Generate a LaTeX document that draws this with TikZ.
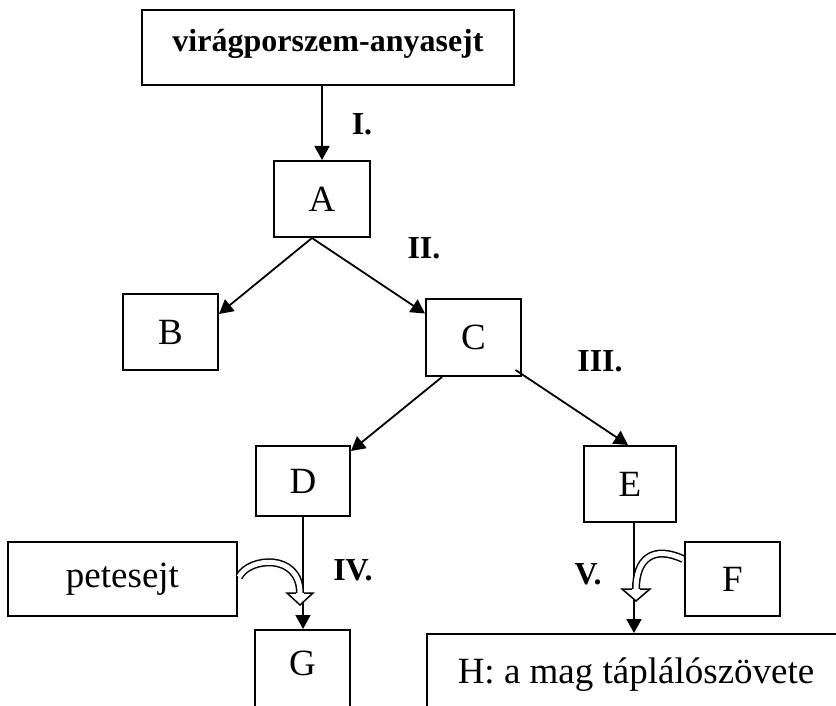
\documentclass[tikz,border=0pt]{standalone}
\usepackage{fontspec}
\setmainfont{Liberation Serif}
\usetikzlibrary{arrows.meta,calc}
\begin{document}
\begin{tikzpicture}[x=1pt,y=-1pt,
  box/.style={draw, line width=2pt, rectangle, inner sep=0pt,
    font=\fontsize{37}{40}\selectfont},
  stage/.style={inner sep=0pt, font=\bfseries\fontsize{32}{35}\selectfont},
  arr/.style={line width=1.8pt, -{Triangle[length=14pt,width=15pt]}},
  hollowline/.style={line width=1.5pt, double=white, double distance=5pt},
  headfill/.style={fill=white},
  headline/.style={draw, line width=1.5pt, line join=miter}]
\useasboundingbox (0,0) rectangle (836,706);
\clip (0,0) rectangle (836,706);

% boxes
\node[box, minimum width=372pt, minimum height=75pt,
      font=\bfseries\fontsize{32}{36}\selectfont,
      text height=22pt, text depth=14pt] (top) at (328,47.5) {virágporszem-anyasejt};
\node[box, minimum width=96pt, minimum height=76pt] (A) at (322,199) {A};
\node[box, minimum width=95pt, minimum height=76pt] (B) at (170.5,332) {B};
\node[box, minimum width=95pt, minimum height=77pt] (C) at (473.5,337.5) {C};
\node[box, minimum width=94pt, minimum height=70pt] (D) at (303,481) {D};
\node[box, minimum width=92pt, minimum height=76pt] (E) at (630,484) {E};
\node[box, minimum width=229pt, minimum height=74pt] (pete) at (122.5,579) {petesejt};
\node[box, minimum width=95pt, minimum height=74pt] (F) at (732.5,579) {F};
\node[box, anchor=north, minimum width=95pt, minimum height=100pt,
      text height=25pt, text depth=35pt] (G) at (302.5,629) {G};
\node[box, anchor=north west, minimum width=418pt, minimum height=100pt,
      text height=25pt, text depth=26pt] (H) at (426,633) {H: a mag táplálószövete};

% stage labels
\node[stage] (s1) at (362,124) {I.};
\node[stage] (s2) at (424,248) {II.};
\node[stage] (s3) at (600,361) {III.};
\node[stage] (s4) at (353,570) {IV.};
\node[stage] (s5) at (588,574) {V.};

% straight connectors
\draw[arr] (top.south -| A.north) -- (A.north);
\draw[arr] ([xshift=-10pt]A.south) -- ([yshift=18pt]B.east);
\draw[arr] ([xshift=-10pt]A.south) -- ([yshift=24pt]C.west);
\draw[arr] ([xshift=-31.5pt]C.south) -- ([yshift=-6pt]D.north east);
\draw[arr] ([xshift=42pt,yshift=7pt]C.south) -- ([xshift=-2pt]E.north);
\draw[arr] (D.south) -- (D.south |- G.north);
\draw[arr] ([xshift=4pt]E.south) -- ([xshift=4pt]E.south |- H.north);

% hollow curved arrows joining in
\coordinate (gbase) at (300,593);
\coordinate (hbase) at (636,589);

\draw[hollowline] ([xshift=1pt,yshift=2pt]pete.east)
  .. controls +(10,-20) and +(0,-40) .. (gbase);
\fill[headfill] ($(gbase)+(-13,0)$) -- ($(gbase)+(0,12)$) -- ($(gbase)+(13,0)$) -- cycle;
\draw[headline] ($(gbase)+(-4,0)$) -- ($(gbase)+(-13,0)$) -- ($(gbase)+(0,12)$)
  -- ($(gbase)+(13,0)$) -- ($(gbase)+(4,0)$);

\draw[hollowline] ([xshift=-1pt,yshift=20pt]F.west)
  .. controls +(-30,-14) and +(0,-30) .. (hbase);
\fill[headfill] ($(hbase)+(-14,0)$) -- ($(hbase)+(0,12)$) -- ($(hbase)+(14,0)$) -- cycle;
\draw[headline] ($(hbase)+(-4,0)$) -- ($(hbase)+(-14,0)$) -- ($(hbase)+(0,12)$)
  -- ($(hbase)+(14,0)$) -- ($(hbase)+(4,0)$);
\end{tikzpicture}
\end{document}
